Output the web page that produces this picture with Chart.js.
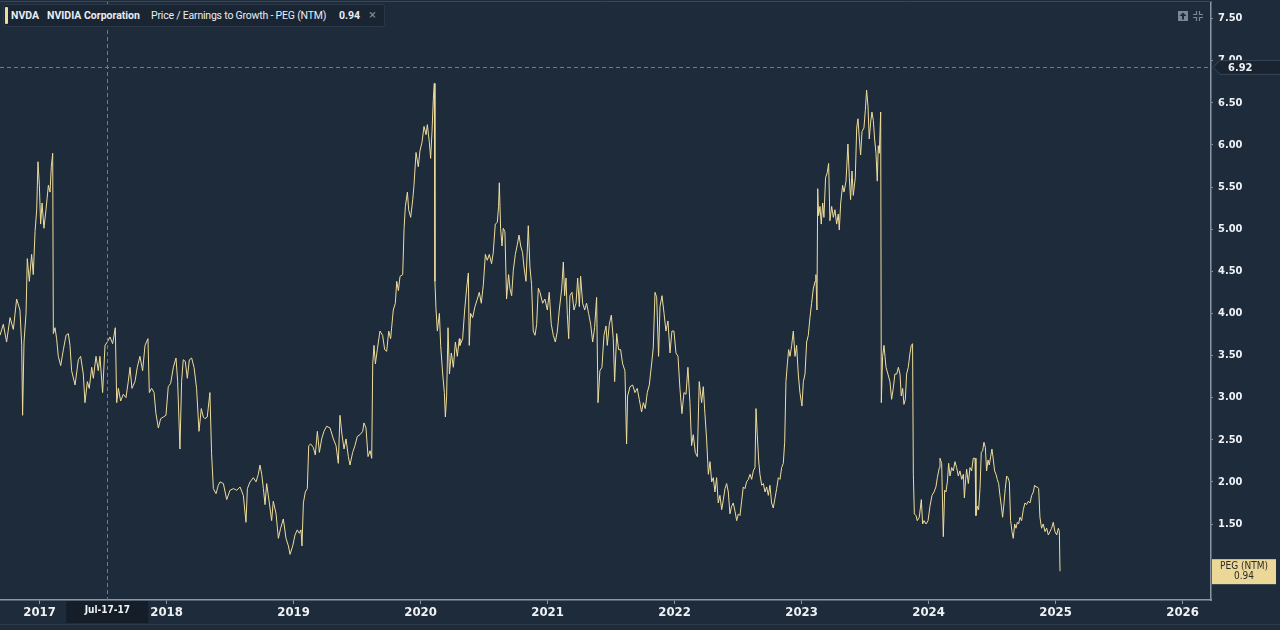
<!DOCTYPE html>
<html><head><meta charset="utf-8">
<script src="https://cdn.jsdelivr.net/npm/chart.js@4.4.1/dist/chart.umd.min.js"></script>
<style>
html,body{margin:0;padding:0;background:#1e2b3b;width:1280px;height:630px;overflow:hidden;}
#wrap{position:relative;width:1280px;height:630px;}
#c{position:absolute;left:0;top:0;}
#legend{position:absolute;left:3px;top:4px;height:23px;width:382px;background:#1a2533;border:1px solid #2b3746;box-sizing:border-box;border-radius:2px;font-family:Roboto,'Liberation Sans',sans-serif;font-size:10.5px;color:#e9edf2;white-space:nowrap;}
#legend span{position:absolute;top:4px;line-height:13px;}
#legend .bar{position:absolute;left:1px;top:2px;width:3px;height:17px;background:#eedc9a;border-radius:1px;}
.b{font-weight:bold;}
</style></head>
<body><div id="wrap">
<canvas id="c" width="1280" height="630"></canvas>
<div id="legend"><div class="bar"></div>
<span class="b" style="left:7px">NVDA</span>
<span class="b" style="left:43px">NVIDIA Corporation</span>
<span style="left:147px;letter-spacing:-0.2px">Price / Earnings to Growth - PEG (NTM)</span>
<span class="b" style="left:335px">0.94</span>
<span style="left:365px;color:#7f8a97;font-size:13px;top:3px">×</span>
</div>
</div>
<script>
const years = [
2016.688,2016.714,2016.740,2016.767,2016.793,2016.819,2016.845,2016.859,2016.866,2016.877,2016.893,2016.903,2016.919,2016.937,2016.950,2016.964,2016.977,2016.987,2016.998,2017.008,2017.019,2017.034,2017.050,2017.069,2017.082,2017.092,2017.103,2017.108,2017.121,2017.134,2017.147,2017.166,2017.187,2017.208,2017.226,2017.239,2017.252,2017.279,2017.305,2017.323,2017.344,2017.357,2017.376,2017.391,2017.410,2017.423,2017.444,2017.462,2017.475,2017.496,2017.515,2017.533,2017.554,2017.575,2017.596,2017.607,2017.620,2017.638,2017.659,2017.680,2017.698,2017.712,2017.727,2017.751,2017.769,2017.790,2017.811,2017.830,2017.853,2017.864,2017.882,2017.901,2017.916,2017.935,2017.953,2017.974,2017.995,2018.013,2018.032,2018.053,2018.074,2018.087,2018.105,2018.118,2018.131,2018.147,2018.163,2018.179,2018.197,2018.216,2018.236,2018.255,2018.273,2018.289,2018.302,2018.320,2018.341,2018.354,2018.368,2018.389,2018.407,
2018.421,2018.447,2018.473,2018.499,2018.526,2018.552,2018.578,2018.604,2018.625,2018.636,2018.657,2018.683,2018.704,2018.722,2018.735,2018.749,2018.762,2018.775,2018.788,2018.809,2018.827,2018.840,2018.862,2018.880,2018.898,2018.919,2018.940,2018.959,2018.972,2018.993,2019.011,2019.029,2019.045,2019.058,2019.066,2019.077,2019.092,2019.108,2019.119,2019.134,2019.155,2019.171,2019.187,2019.203,2019.221,2019.239,2019.260,2019.287,2019.313,2019.334,2019.352,2019.365,2019.381,2019.397,2019.413,2019.431,2019.444,2019.465,2019.483,2019.502,2019.523,2019.544,2019.554,2019.570,2019.586,2019.602,2019.615,2019.623,2019.633,2019.644,2019.659,2019.680,2019.701,2019.717,2019.733,2019.749,2019.764,2019.785,2019.801,2019.812,2019.825,2019.838,2019.859,2019.870,2019.880,2019.896,2019.906,2019.922,2019.938,2019.948,2019.964,2019.982,2019.995,2020.011,2020.027,2020.043,2020.053,2020.069,2020.079,2020.090,2020.100,2020.108,2020.113,2020.121,2020.132,2020.148,2020.158,2020.174,2020.187,2020.195,2020.205,2020.216,2020.227,2020.242,2020.258,2020.274,2020.289,2020.305,
2020.310,2020.331,2020.347,2020.362,2020.376,2020.383,2020.394,2020.410,2020.428,2020.447,2020.462,2020.478,2020.494,2020.510,2020.525,2020.541,2020.559,2020.572,2020.588,2020.604,2020.614,2020.620,2020.630,2020.641,2020.651,2020.664,2020.677,2020.693,2020.704,2020.717,2020.730,2020.746,2020.762,2020.775,2020.788,2020.803,2020.814,2020.830,2020.848,2020.861,2020.874,2020.887,2020.901,2020.914,2020.927,2020.940,2020.961,2020.979,2020.998,2021.013,2021.029,2021.045,2021.061,2021.077,2021.092,2021.111,2021.124,2021.134,2021.145,2021.155,2021.166,2021.176,2021.192,2021.208,2021.224,2021.237,2021.250,2021.260,2021.276,2021.292,2021.307,2021.323,2021.339,2021.355,2021.370,2021.386,2021.397,2021.412,2021.428,2021.444,2021.460,2021.470,2021.486,2021.502,2021.517,2021.528,2021.544,2021.559,2021.575,2021.591,2021.609,2021.622,2021.630,2021.649,2021.670,2021.688,2021.706,2021.722,2021.740,2021.754,2021.769,2021.785,2021.801,2021.819,2021.832,2021.846,2021.859,2021.874,2021.885,2021.901,2021.917,2021.932,2021.948,2021.964,2021.979,2021.995,2022.011,2022.027,2022.042,2022.058,2022.074,2022.090,2022.105,2022.121,2022.134,2022.147,2022.163,2022.179,2022.194,
2022.213,2022.226,2022.239,2022.252,2022.266,2022.279,2022.292,2022.305,2022.318,2022.331,2022.344,2022.357,2022.371,2022.384,2022.397,2022.410,2022.423,2022.436,2022.449,2022.462,2022.476,2022.489,2022.502,2022.515,2022.528,2022.541,2022.554,2022.567,2022.581,2022.594,2022.607,2022.620,2022.633,2022.641,2022.651,2022.662,2022.672,2022.686,2022.699,2022.712,2022.725,2022.738,2022.751,2022.764,2022.777,2022.791,2022.804,2022.817,2022.830,2022.843,2022.856,2022.867,2022.877,2022.888,2022.898,2022.909,2022.922,2022.935,2022.948,2022.961,2022.974,2022.987,2023.003,2023.014,2023.027,2023.040,2023.053,2023.066,2023.079,2023.092,2023.106,2023.113,2023.121,2023.127,2023.134,2023.145,2023.155,2023.166,2023.176,2023.189,2023.202,2023.213,2023.223,2023.237,2023.250,2023.263,2023.276,2023.289,2023.297,2023.308,2023.323,2023.334,2023.350,2023.365,2023.376,2023.386,2023.397,2023.407,2023.423,2023.434,2023.444,2023.455,2023.465,2023.476,2023.491,2023.502,2023.512,2023.523,2023.533,2023.544,2023.554,2023.565,2023.575,2023.586,2023.596,2023.604,2023.612,2023.623,2023.628,2023.638,2023.649,2023.665,2023.680,2023.696,2023.709,2023.722,2023.735,2023.749,2023.762,2023.775,2023.785,2023.796,2023.806,2023.817,2023.827,2023.840,2023.854,2023.864,2023.874,2023.880,2023.888,2023.901,2023.911,2023.927,2023.943,2023.953,2023.964,2023.980,2023.996,2024.011,2024.027,2024.043,2024.058,2024.069,2024.085,
2024.090,2024.103,2024.116,2024.127,2024.137,2024.148,2024.158,2024.169,2024.182,2024.195,2024.208,2024.221,2024.234,2024.247,2024.261,2024.274,2024.282,2024.292,2024.300,2024.313,2024.326,2024.339,2024.352,2024.366,2024.373,2024.384,2024.394,2024.405,2024.415,2024.426,2024.436,2024.447,2024.457,2024.468,2024.478,2024.489,2024.499,2024.510,2024.520,2024.531,2024.541,2024.552,2024.562,2024.573,2024.583,2024.594,2024.604,2024.615,2024.625,2024.636,2024.646,2024.657,2024.667,2024.678,2024.688,2024.699,2024.709,2024.720,2024.733,2024.746,2024.759,2024.772,2024.785,2024.799,2024.812,2024.825,2024.835,2024.846,2024.856,2024.867,2024.877,2024.890,2024.903,2024.917,2024.930,2024.943,2024.956,2024.969,2024.982,2024.995,2025.009,2025.022,2025.030,2025.035
];
const pegValues = [
3.74,3.87,3.66,3.95,3.81,4.17,4.04,3.62,2.79,3.66,4.00,4.65,4.38,4.70,4.46,4.97,5.23,5.80,5.52,5.06,5.31,5.01,5.23,5.52,5.44,5.74,5.90,3.76,3.83,3.70,3.49,3.38,3.57,3.74,3.76,3.62,3.32,3.15,3.45,3.49,3.28,2.94,3.19,3.11,3.36,3.23,3.49,3.32,3.49,3.06,3.62,3.66,3.72,3.64,3.83,2.94,3.11,2.96,3.04,3.00,3.19,3.36,3.11,3.19,3.36,3.49,3.32,3.62,3.70,3.06,3.11,3.06,2.81,2.64,2.75,2.77,2.79,3.13,3.17,3.36,3.47,3.19,2.39,3.19,3.45,3.43,3.23,3.45,3.47,3.36,3.11,2.60,2.87,2.77,2.75,2.77,3.06,2.34,1.92,1.86,1.96,
2.00,1.98,1.79,1.90,1.92,1.90,1.94,1.84,1.52,1.92,2.00,2.05,2.00,2.09,2.20,2.09,1.92,1.73,1.98,1.75,1.54,1.77,1.62,1.33,1.45,1.56,1.33,1.24,1.14,1.24,1.37,1.43,1.39,1.43,1.24,1.75,1.88,1.92,2.43,2.45,2.41,2.32,2.60,2.35,2.51,2.60,2.66,2.64,2.51,2.43,2.22,2.79,2.56,2.39,2.51,2.30,2.20,2.35,2.43,2.54,2.56,2.60,2.70,2.64,2.30,2.37,2.28,3.40,3.62,3.40,3.57,3.79,3.74,3.57,3.55,3.79,3.70,4.04,4.12,4.38,4.27,4.44,4.46,5.01,5.27,5.44,5.23,5.14,5.35,5.52,5.91,5.74,5.93,6.03,6.22,6.12,6.24,6.03,5.84,6.16,6.54,6.73,4.38,4.06,3.79,4.00,3.62,3.28,3.06,2.77,3.02,3.83,3.28,3.53,3.36,3.66,3.49,3.70,
3.62,3.70,4.04,4.29,4.48,3.62,4.00,3.95,4.08,4.17,4.25,4.12,4.34,4.70,4.63,4.70,4.59,4.72,5.06,5.08,5.27,5.55,5.01,4.80,5.01,4.97,4.17,4.46,4.29,4.21,4.51,4.70,4.82,4.93,4.80,4.72,4.55,4.38,5.04,4.55,4.34,3.79,3.74,3.87,4.30,4.25,4.12,4.17,4.04,4.25,3.87,3.74,3.66,3.79,4.04,4.29,4.61,4.21,4.42,4.00,3.70,4.21,4.25,4.04,4.12,4.42,4.08,4.44,4.12,4.04,4.12,4.00,3.87,3.66,3.83,4.19,2.94,3.32,3.36,3.74,3.85,3.62,3.87,3.98,3.70,3.19,3.76,3.57,3.57,3.40,3.32,2.45,3.02,3.13,3.15,3.06,3.11,2.98,2.83,2.94,2.87,3.06,3.15,3.40,3.59,4.25,4.19,3.49,4.08,4.21,4.00,3.79,3.91,3.53,3.79,3.79,3.53,3.49,3.11,2.81,3.06,3.04,3.36,2.94,2.43,2.56,2.35,2.30,3.19,
2.94,3.13,2.81,2.51,2.09,2.24,2.00,2.05,1.88,2.05,1.75,1.84,1.67,1.79,1.92,1.98,1.88,1.62,1.71,1.75,1.65,1.54,1.62,1.60,1.77,1.94,1.92,2.00,2.03,2.09,2.03,2.13,2.17,2.87,2.56,2.26,2.09,1.96,1.98,1.88,1.94,1.84,1.96,1.75,1.69,1.81,1.92,2.05,2.03,2.17,2.22,2.47,3.19,3.40,3.57,3.49,3.62,3.79,3.49,3.62,3.28,3.06,2.90,3.19,3.28,3.66,3.74,3.95,4.12,4.29,4.38,4.46,4.04,5.48,5.16,5.27,5.06,5.31,5.14,5.61,5.67,5.78,5.10,5.27,5.14,5.23,5.06,5.18,4.99,5.31,5.52,5.44,5.57,6.01,5.61,5.35,5.69,5.40,5.61,6.20,6.31,6.07,5.88,6.16,6.20,6.41,6.65,6.46,6.07,6.27,6.39,6.29,6.07,5.90,5.57,5.99,5.90,6.39,2.94,3.49,3.62,3.36,3.28,3.19,2.98,3.11,3.28,3.28,3.36,3.28,3.02,3.11,2.92,2.98,3.28,3.36,3.53,3.62,3.64,2.09,1.62,1.60,1.54,1.58,1.79,1.50,1.54,1.50,1.54,1.71,1.84,1.88,1.94,2.05,2.17,
2.28,2.22,1.35,1.90,1.88,2.00,2.22,2.07,2.17,2.13,2.24,2.17,2.07,2.13,2.03,2.09,1.81,2.03,2.15,1.98,2.17,2.13,2.28,2.28,1.60,1.71,1.67,1.92,2.35,2.37,2.47,2.41,2.13,2.26,2.20,2.30,2.39,2.26,2.13,2.09,2.03,1.98,1.84,1.71,1.58,1.75,1.92,2.07,2.05,2.00,1.54,1.41,1.33,1.50,1.45,1.52,1.50,1.58,1.54,1.67,1.75,1.73,1.77,1.75,1.84,1.88,1.96,1.94,1.94,1.92,1.58,1.45,1.50,1.41,1.45,1.37,1.41,1.45,1.52,1.41,1.37,1.45,1.41,0.94
];
const yearTicks = [2017,2018,2019,2020,2021,2022,2023,2024,2025,2026];
const pegTicks = [1.5,2.0,2.5,3.0,3.5,4.0,4.5,5.0,5.5,6.0,6.5,7.0,7.5];
const crossYear = 2017.533;
const crossLabel = 'Jul-17-17';
const crossValue = 6.92;
const seriesName = 'PEG (NTM)';
const lastValue = pegValues[pegValues.length - 1];

const BG = '#1e2b3b';
const TXT = '#eef1f5';
const AXIS = '#8b97a4';
const LINE = '#eedc9a';
const NARROW = "'Liberation Sans Narrow','DejaVu Sans Condensed',Roboto,sans-serif";

const overlay = {
  id: 'overlay',
  beforeDraw(chart) {
    const ctx = chart.ctx;
    ctx.save();
    ctx.fillStyle = BG;
    ctx.fillRect(0, 0, chart.width, chart.height);
    ctx.restore();
  },
  afterDatasetsDraw(chart) {
    const {ctx, chartArea: a, scales: {x, y}} = chart;
    ctx.save();
    ctx.strokeStyle = '#6f7c8b';
    ctx.lineWidth = 1;
    ctx.setLineDash([4, 3]);
    const cx = Math.round(x.getPixelForValue(crossYear)) + 0.5;
    ctx.beginPath(); ctx.moveTo(cx, a.top); ctx.lineTo(cx, a.bottom); ctx.stroke();
    const cy = Math.round(y.getPixelForValue(crossValue)) + 0.5;
    ctx.beginPath(); ctx.moveTo(a.left, cy); ctx.lineTo(a.right, cy); ctx.stroke();
    ctx.restore();
  },
  afterDraw(chart) {
    const {ctx, chartArea: a, scales: {x, y}} = chart;
    ctx.save();
    const cx = x.getPixelForValue(crossYear);
    ctx.fillStyle = '#141d28';
    ctx.fillRect(cx - 41, a.bottom + 1, 82, 22);
    ctx.fillStyle = TXT;
    ctx.font = "bold 10px " + NARROW;
    ctx.textAlign = 'center'; ctx.textBaseline = 'middle';
    ctx.fillText(crossLabel, cx, a.bottom + 10);
    const cy = y.getPixelForValue(crossValue);
    ctx.fillStyle = '#1a2431';
    ctx.strokeStyle = '#3a4756';
    ctx.beginPath();
    ctx.moveTo(a.right + 2, cy);
    ctx.lineTo(a.right + 9, cy - 7);
    ctx.lineTo(a.right + 70, cy - 7);
    ctx.lineTo(a.right + 70, cy + 7);
    ctx.lineTo(a.right + 9, cy + 7);
    ctx.closePath(); ctx.fill(); ctx.stroke();
    ctx.fillStyle = TXT;
    ctx.font = "bold 11px " + NARROW;
    ctx.textAlign = 'left';
    ctx.fillText(crossValue.toFixed(2), a.right + 17, cy + 1);
    const ly = y.getPixelForValue(lastValue);
    ctx.fillStyle = '#ebd898';
    ctx.fillRect(a.right + 1, ly - 12, 64, 25);
    ctx.fillStyle = '#2a2a2a';
    ctx.font = "10px " + NARROW;
    ctx.textAlign = 'center';
    ctx.fillText(seriesName, a.right + 33, ly - 5);
    ctx.fillText(lastValue.toFixed(2), a.right + 33, ly + 5);
    ctx.fillStyle = '#7d8794';
    ctx.fillRect(1178, 11, 10, 10);
    ctx.fillStyle = '#1e2b3b';
    ctx.beginPath(); ctx.moveTo(1183, 12.5); ctx.lineTo(1186.5, 16); ctx.lineTo(1179.5, 16); ctx.closePath(); ctx.fill();
    ctx.fillRect(1182, 16, 2, 3.5);
    ctx.strokeStyle = '#7d8794'; ctx.lineWidth = 1.2;
    const ix = 1193, iy = 11;
    ctx.beginPath();
    ctx.moveTo(ix + 3.5, iy); ctx.lineTo(ix + 3.5, iy + 3.5); ctx.lineTo(ix, iy + 3.5);
    ctx.moveTo(ix + 6.5, iy); ctx.lineTo(ix + 6.5, iy + 3.5); ctx.lineTo(ix + 10, iy + 3.5);
    ctx.moveTo(ix, iy + 6.5); ctx.lineTo(ix + 3.5, iy + 6.5); ctx.lineTo(ix + 3.5, iy + 10);
    ctx.moveTo(ix + 10, iy + 6.5); ctx.lineTo(ix + 6.5, iy + 6.5); ctx.lineTo(ix + 6.5, iy + 10);
    ctx.stroke();
    ctx.strokeStyle = '#3b4757'; ctx.lineWidth = 1;
    ctx.beginPath(); ctx.moveTo(0, 1.5); ctx.lineTo(a.right, 1.5); ctx.stroke();
    ctx.strokeStyle = '#2c3a4b';
    ctx.beginPath(); ctx.moveTo(0, 624.5); ctx.lineTo(1280, 624.5); ctx.stroke();
    ctx.restore();
  }
};

new Chart(document.getElementById('c'), {
  type: 'line',
  data: {
    datasets: [{
      label: seriesName,
      data: years.map((yr, i) => ({x: yr, y: pegValues[i]})),
      borderColor: LINE,
      borderWidth: 1,
      pointRadius: 0,
      tension: 0,
      fill: false
    }]
  },
  options: {
    responsive: false,
    animation: false,
    events: [],
    layout: {padding: {top: 2, left: 0, right: 0, bottom: 0}},
    plugins: {legend: {display: false}, tooltip: {enabled: false}},
    scales: {
      x: {
        type: 'linear',
        min: 2016.688,
        max: 2026.224,
        afterBuildTicks: s => { s.ticks = yearTicks.map(v => ({value: v})); },
        afterFit: s => { s.height = 30; s.paddingLeft = 0; s.paddingRight = 0; },
        ticks: {color: TXT, font: {family: NARROW, size: 13, weight: 'bold'}, padding: 1, maxRotation: 0, autoSkip: false, callback: v => String(v)},
        grid: {drawOnChartArea: false, tickLength: 4, color: AXIS},
        border: {color: AXIS, width: 1.5}
      },
      y: {
        position: 'right',
        min: 0.598,
        max: 7.696,
        afterBuildTicks: s => { s.ticks = pegTicks.map(v => ({value: v})); },
        afterFit: s => { s.width = 69; s.paddingTop = 0; s.paddingBottom = 0; },
        ticks: {color: TXT, font: {family: NARROW, size: 11, weight: 'bold'}, padding: 5, callback: v => Number(v).toFixed(2)},
        grid: {drawOnChartArea: false, tickLength: 2, color: AXIS},
        border: {color: AXIS, width: 1.5}
      }
    }
  },
  plugins: [overlay]
});
</script>
</body></html>
